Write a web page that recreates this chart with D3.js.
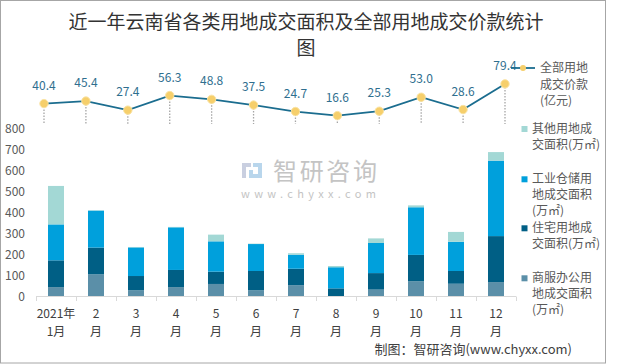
<!DOCTYPE html>
<html>
<head>
<meta charset="utf-8">
<script src="https://cdn.jsdelivr.net/npm/d3@7"></script>
<style>
  html, body { margin: 0; padding: 0; background: #fff; }
  svg { display: block; font-family: "Noto Sans CJK SC", "Noto Sans", sans-serif; }
</style>
</head>
<body>
<svg id="chart" width="620" height="364"></svg>
<script>
// ---- data ----
const monthsTop = ["2021年", "2", "3", "4", "5", "6", "7", "8", "9", "10", "11", "12"];
const monthsBottom = ["1月", "月", "月", "月", "月", "月", "月", "月", "月", "月", "月", "月"];
const commercial  = [45, 106, 30, 45, 60, 30, 54, 2, 33, 73, 61, 69];
const residential = [128, 128, 68, 82, 59, 92, 79, 37, 79, 126, 61, 220];
const industrial  = [172, 177, 137, 204, 145, 129, 67, 101, 144, 228, 140, 361];
const other       = [184, 2, 2, 2, 32, 2, 7, 6, 22, 9, 47, 41];
const price       = [40.4, 45.4, 27.4, 56.3, 48.8, 37.5, 24.7, 16.6, 25.3, 53.0, 28.6, 79.4];
const yTicks = [0, 100, 200, 300, 400, 500, 600, 700, 800];

const seriesKeys = ["commercial", "residential", "industrial", "other"];
const seriesColors = { commercial: "#5b8fa8", residential: "#005f85", industrial: "#00a0dc", other: "#a3d8d5" };
const legendItems = [
  { key: "other", lines: ["其他用地成", "交面积(万㎡)"] },
  { key: "industrial", lines: ["工业仓储用", "地成交面积", "(万㎡)"] },
  { key: "residential", lines: ["住宅用地成", "交面积(万㎡)"] },
  { key: "commercial", lines: ["商服办公用", "地成交面积", "(万㎡)"] }
];

const table = monthsTop.map((m, i) => ({
  idx: i, commercial: commercial[i], residential: residential[i], industrial: industrial[i], other: other[i]
}));

const svg = d3.select("#chart");

// frame
svg.append("rect").attr("x", 0.5).attr("y", 0.5).attr("width", 605).attr("height", 362.5)
  .attr("fill", "none").attr("stroke", "#a6a6a6").attr("stroke-width", 1);

// title
const title = svg.append("text").attr("text-anchor", "middle").attr("fill", "#333")
  .style("font-size", "19px");
title.append("tspan").attr("x", 306).attr("y", 29).text("近一年云南省各类用地成交面积及全部用地成交价款统计");
title.append("tspan").attr("x", 306).attr("y", 55).text("图");

// watermark
const wm = svg.append("g");
wm.append("rect").attr("x", 242).attr("y", 163).attr("width", 9).attr("height", 4).attr("fill", "#c9cfe0");
wm.append("rect").attr("x", 242).attr("y", 163).attr("width", 4).attr("height", 15).attr("fill", "#c9cfe0");
wm.append("rect").attr("x", 249).attr("y", 170).attr("width", 4).attr("height", 8).attr("fill", "#b9d6ec");
wm.append("rect").attr("x", 253).attr("y", 163).attr("width", 9).attr("height", 4).attr("fill", "#b9d6ec");
wm.append("rect").attr("x", 258).attr("y", 163).attr("width", 4).attr("height", 15).attr("fill", "#b9d6ec");
wm.append("rect").attr("x", 249).attr("y", 174).attr("width", 13).attr("height", 4).attr("fill", "#b9d6ec");
wm.append("text").attr("x", 273).attr("y", 180).attr("fill", "#c4c4c4").style("font-size", "24px")
  .attr("textLength", 104).attr("lengthAdjust", "spacing").text("智研咨询");
wm.append("text").attr("x", 241).attr("y", 198).attr("fill", "#c4c4c4").style("font-size", "11px")
  .attr("textLength", 135).attr("lengthAdjust", "spacing").text("www.chyxx.com");

// bar scales
const x = d3.scaleBand().domain(d3.range(12)).range([36, 516]).paddingInner(0.6).paddingOuter(0.3);
const y = d3.scaleLinear().domain([0, 800]).range([296.5, 129.3]);

const stack = d3.stack().keys(seriesKeys);
const stacked = stack(table);

svg.append("g").selectAll("g").data(stacked).join("g")
  .attr("fill", d => seriesColors[d.key])
  .selectAll("rect").data(d => d).join("rect")
  .attr("x", d => x(d.data.idx))
  .attr("width", x.bandwidth())
  .attr("y", d => y(d[1]))
  .attr("height", d => Math.max(0, y(d[0]) - y(d[1])));

// x axis line and ticks
const axisG = svg.append("g");
axisG.append("line").attr("x1", 36).attr("x2", 516).attr("y1", 296.5).attr("y2", 296.5)
  .attr("stroke", "#d9d9d9");
const tickPos = d3.range(13).map(i => 36 + i * x.step());
axisG.selectAll("line.tk").data(tickPos).join("line").attr("class", "tk")
  .attr("x1", d => d + 0.5).attr("x2", d => d + 0.5).attr("y1", 296.5).attr("y2", 301)
  .attr("stroke", "#d9d9d9");

// x labels
const xl = svg.append("g").attr("fill", "#404040").style("font-size", "12px").attr("text-anchor", "middle");
xl.selectAll("text.t1").data(monthsTop).join("text").attr("class", "t1")
  .attr("x", (d, i) => x(i) + x.bandwidth() / 2).attr("y", 318).text(d => d);
xl.selectAll("text.t2").data(monthsBottom).join("text").attr("class", "t2")
  .attr("x", (d, i) => x(i) + x.bandwidth() / 2).attr("y", 336).text(d => d);

// y labels
svg.append("g").attr("fill", "#595959").style("font-size", "12px").attr("text-anchor", "end")
  .selectAll("text").data(yTicks).join("text")
  .attr("x", 25).attr("y", d => y(d) + 4).text(d => d);

// line chart
const xl2 = d3.scalePoint().domain(d3.range(12)).range([44, 505]);
const y2 = d3.scaleLinear().domain([0, 100]).range([124, 73.5]);

svg.append("g").selectAll("line").data(price).join("line")
  .attr("x1", (d, i) => xl2(i)).attr("x2", (d, i) => xl2(i))
  .attr("y1", d => y2(d)).attr("y2", y2(0))
  .attr("stroke", "#a6a6a6").attr("stroke-width", 1.3).attr("stroke-dasharray", "1.5,1.5");

svg.append("path").datum(price)
  .attr("d", d3.line().x((d, i) => xl2(i)).y(d => y2(d)))
  .attr("fill", "none").attr("stroke", "#1b6d8f").attr("stroke-width", 1.8);

svg.append("g").selectAll("circle").data(price).join("circle")
  .attr("cx", (d, i) => xl2(i)).attr("cy", d => y2(d)).attr("r", 4.2)
  .attr("fill", "#f6cf6b").attr("stroke", "#fae3a3").attr("stroke-width", 1);

svg.append("g").attr("fill", "#2f6f8f").style("font-size", "12px").attr("text-anchor", "middle")
  .selectAll("text").data(price).join("text")
  .attr("x", (d, i) => xl2(i)).attr("y", d => y2(d) - 14)
  .text(d => d.toFixed(1));

// legend - line
const lg = svg.append("g");
lg.append("line").attr("x1", 511).attr("x2", 535).attr("y1", 68).attr("y2", 68)
  .attr("stroke", "#1b6d8f").attr("stroke-width", 1.8);
lg.append("circle").attr("cx", 523).attr("cy", 68).attr("r", 3).attr("fill", "#f6cf6b");
const lineLegendLines = ["全部用地", "成交价款", "(亿元)"];
lg.selectAll("text.ll").data(lineLegendLines).join("text").attr("class", "ll")
  .attr("x", 540).attr("y", (d, i) => 72 + i * 16.5).attr("fill", "#595959")
  .style("font-size", "12px").text(d => d);

// legend - bars
const legendY = [129, 179.3, 228.3, 278.3];
legendItems.forEach((item, k) => {
  const g = svg.append("g");
  g.append("rect").attr("x", 521.5).attr("y", legendY[k] - 3).attr("width", 6).attr("height", 6)
    .attr("fill", seriesColors[item.key]);
  g.selectAll("text").data(item.lines).join("text")
    .attr("x", 532).attr("y", (d, i) => legendY[k] + 4 + i * 16)
    .attr("fill", "#595959").style("font-size", "12px").text(d => d);
});

// source
svg.append("text").attr("x", 572).attr("y", 354).attr("text-anchor", "end")
  .attr("fill", "#404040").style("font-size", "13px").text("制图：智研咨询(www.chyxx.com)");
</script>
</body>
</html>
